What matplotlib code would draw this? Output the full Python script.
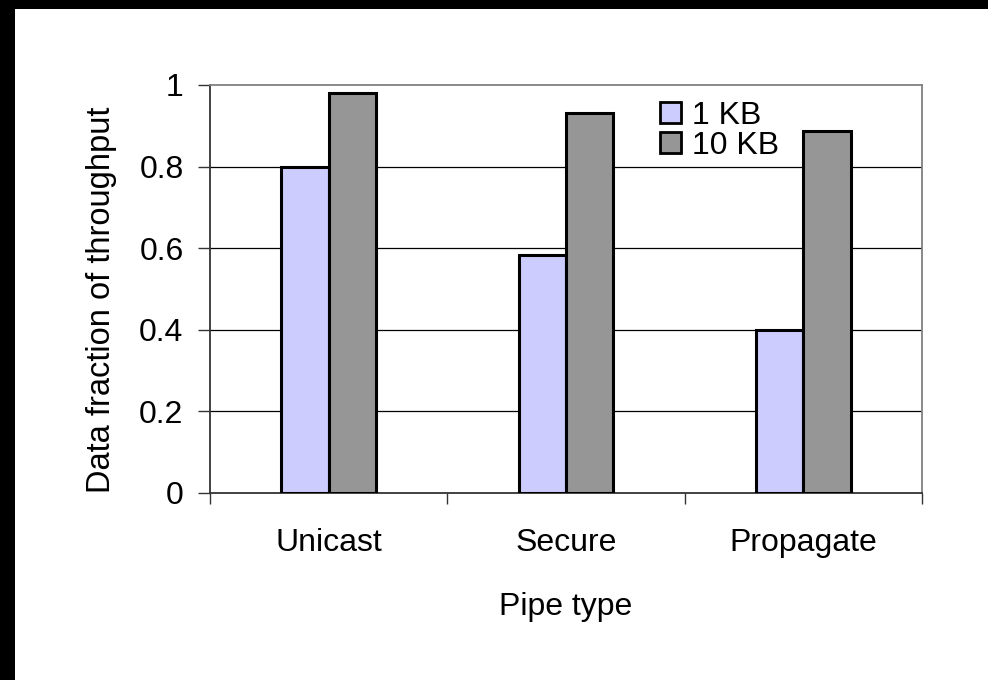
import matplotlib
matplotlib.use("Agg")
import matplotlib.pyplot as plt
from matplotlib.patches import Rectangle
import numpy as np

plt.rcParams['font.family'] = ['Liberation Sans', 'DejaVu Sans']

categories = ["Unicast", "Secure", "Propagate"]
series_names = ["1 KB", "10 KB"]
values_1kb = [0.80, 0.583, 0.40]
values_10kb = [0.98, 0.932, 0.888]
ytick_values = [0, 0.2, 0.4, 0.6, 0.8, 1]
ytick_labels = ["0", "0.2", "0.4", "0.6", "0.8", "1"]

FS = 23

fig = plt.figure(figsize=(9.88, 6.8), dpi=100)
fig.patch.set_facecolor("white")

# black strips along the left and top edges
fig.add_artist(Rectangle((0, 0), 15 / 988, 1, transform=fig.transFigure,
                         facecolor="black", edgecolor="none", zorder=10))
fig.add_artist(Rectangle((0, 1 - 9 / 680), 1, 9 / 680, transform=fig.transFigure,
                         facecolor="black", edgecolor="none", zorder=10))

ax = fig.add_axes([210 / 988, (680 - 493) / 680, (922 - 210) / 988, (493 - 85) / 680])

x = np.arange(len(categories))
w = 0.2
ax.bar(x - w / 2, values_1kb, width=w, color="#CCCCFF", edgecolor="black",
       linewidth=2.2, label=series_names[0], zorder=3)
ax.bar(x + w / 2, values_10kb, width=w, color="#969696", edgecolor="black",
       linewidth=2.2, label=series_names[1], zorder=3)

ax.set_xlim(-0.5, len(categories) - 0.5)
ax.set_ylim(0, 1)

ax.set_yticks(ytick_values)
ax.set_yticklabels(ytick_labels)
ax.set_xticks(x)
ax.set_xticklabels(categories)
ax.set_xticks(np.arange(-0.5, len(categories), 1.0), minor=True)
ax.tick_params(axis="x", which="major", length=0, pad=25, labelsize=FS)
ax.tick_params(axis="x", which="minor", length=8, width=1, color="#333333", direction="out")
ax.tick_params(axis="y", length=9, width=1, color="#333333", direction="out", pad=10, labelsize=FS)

for v in ytick_values[1:-1]:
    ax.axhline(v, color="black", linewidth=0.9, zorder=1)

for side in ("left", "bottom"):
    ax.spines[side].set_color("#333333")
    ax.spines[side].set_linewidth(1.3)
for side in ("top", "right"):
    ax.spines[side].set_color("#808080")
    ax.spines[side].set_linewidth(1.3)

ax.set_xlabel("Pipe type", fontsize=FS, labelpad=25)
ax.set_ylabel("Data fraction of throughput", fontsize=FS + 0.5)
ax.yaxis.set_label_coords(-0.131, 0.473)

leg = ax.legend(loc="upper left", bbox_to_anchor=((660 - 210) / 712, 1 - (101 - 85) / 408),
                frameon=False, fontsize=FS, handlelength=0.65, handleheight=0.65,
                handletextpad=0.35, labelspacing=0.0, borderpad=0, borderaxespad=0)
for h in leg.legend_handles:
    h.set_linewidth(2.0)

fig.savefig("out.png", dpi=100, facecolor="white")
